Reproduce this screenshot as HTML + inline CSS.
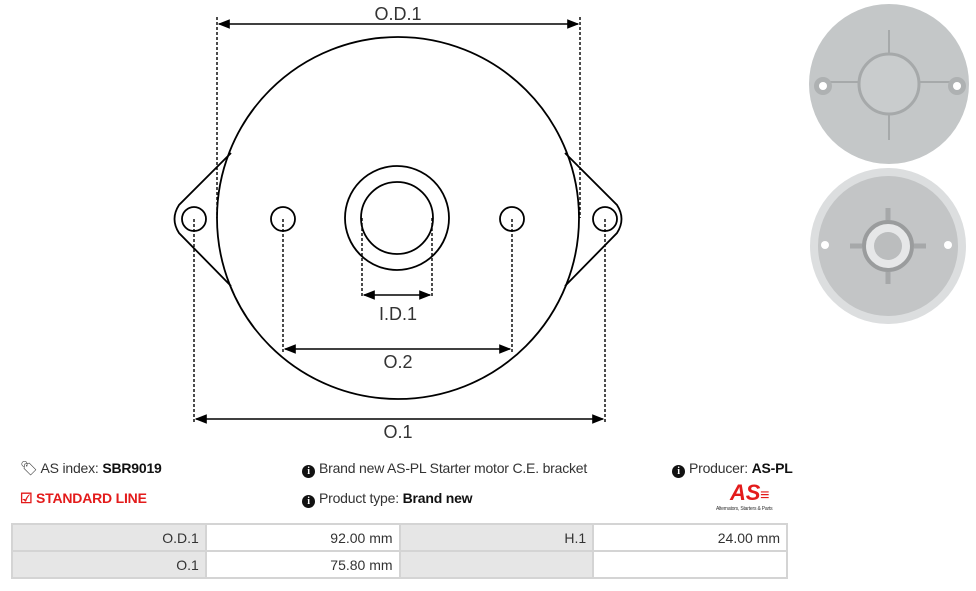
<!DOCTYPE html>
<html><head><meta charset="utf-8"><style>
body{margin:0;width:976px;height:591px;background:#fff;font-family:"Liberation Sans",sans-serif;position:relative;overflow:hidden}
.t{position:absolute;font-size:14px;color:#333;white-space:nowrap;letter-spacing:-0.2px}
b{color:#111}
.i{display:inline-block;width:13px;height:13px;border-radius:50%;background:#111;color:#fff;font-size:10px;font-weight:bold;text-align:center;line-height:13px;vertical-align:-1px;margin-right:4px;font-family:"Liberation Serif",serif}
table{position:absolute;left:11px;top:523px;border-collapse:collapse;width:777px;font-size:14px;color:#333}
td{border:2px solid #d4d4d4;height:25px;text-align:right;padding:0 6px;width:181px}
td.g{background:#e6e6e6}
</style></head><body>
<svg width="976" height="450" style="position:absolute;left:0;top:0">
<defs><marker id="a" viewBox="0 0 10 10" refX="9" refY="5" markerWidth="8" markerHeight="8" orient="auto-start-reverse"><path d="M0,1 L10,5 L0,9z" fill="#000"/></marker></defs>
<g fill="none" stroke="#000" stroke-width="1.8">
<circle cx="398" cy="218" r="181"/>
<path d="M231,153 L179,205 Q170,219 179,233 L231,286"/>
<path d="M565,153 L617,205 Q626,219 617,233 L565,286"/>
<circle cx="194" cy="219" r="12"/><circle cx="605" cy="219" r="12"/>
<circle cx="283" cy="219" r="12"/><circle cx="512" cy="219" r="12"/>
<circle cx="397" cy="218" r="52"/><circle cx="397" cy="218" r="36"/>
</g>
<g stroke="#000" stroke-width="1.4" stroke-dasharray="3,2">
<line x1="217" y1="17" x2="217" y2="218"/><line x1="580" y1="17" x2="580" y2="218"/>
<line x1="362" y1="218" x2="362" y2="298"/><line x1="432" y1="218" x2="432" y2="298"/>
<line x1="283" y1="219" x2="283" y2="352"/><line x1="512" y1="219" x2="512" y2="352"/>
<line x1="194" y1="219" x2="194" y2="422"/><line x1="605" y1="219" x2="605" y2="422"/>
</g>
<g stroke="#000" stroke-width="1.5" marker-start="url(#a)" marker-end="url(#a)">
<line x1="219" y1="24" x2="578" y2="24"/>
<line x1="364" y1="295" x2="430" y2="295"/>
<line x1="285" y1="349" x2="510" y2="349"/>
<line x1="196" y1="419" x2="603" y2="419"/>
</g>
<g font-size="18" fill="#333" text-anchor="middle" font-family="Liberation Sans,sans-serif">
<text x="398" y="20">O.D.1</text><text x="398" y="320">I.D.1</text>
<text x="398" y="368">O.2</text><text x="398" y="438">O.1</text>
</g>
<g>
<circle cx="889" cy="84" r="80" fill="#c4c7c8"/>
<g stroke="#a6a9aa" stroke-width="2"><line x1="830" y1="82" x2="860" y2="82"/><line x1="920" y1="82" x2="950" y2="82"/><line x1="889" y1="30" x2="889" y2="55"/><line x1="889" y1="115" x2="889" y2="140"/></g>
<circle cx="889" cy="84" r="30" fill="#c9cccd" stroke="#a6a9aa" stroke-width="3"/>
<circle cx="823" cy="86" r="9" fill="#aeb1b2"/><circle cx="823" cy="86" r="4" fill="#fff"/>
<circle cx="957" cy="86" r="9" fill="#aeb1b2"/><circle cx="957" cy="86" r="4" fill="#fff"/>
<circle cx="888" cy="246" r="78" fill="#dcdedf"/>
<circle cx="888" cy="246" r="70" fill="#c3c5c6"/>
<g stroke="#a6a8a9" stroke-width="5"><line x1="862" y1="246" x2="850" y2="246"/><line x1="914" y1="246" x2="926" y2="246"/><line x1="888" y1="220" x2="888" y2="208"/><line x1="888" y1="272" x2="888" y2="284"/></g>
<circle cx="888" cy="246" r="24" fill="#e6e7e8" stroke="#9a9c9d" stroke-width="4"/>
<circle cx="888" cy="246" r="14" fill="#bbbdbe"/>
<circle cx="825" cy="245" r="4" fill="#fff"/><circle cx="948" cy="245" r="4" fill="#fff"/>
</g>
</svg>
<div class="t" style="left:20px;top:460px">&#x1F3F7;&#xFE0E; AS index: <b>SBR9019</b></div>
<div class="t" style="left:20px;top:490px;color:#e31b1b;font-weight:bold">&#9745; STANDARD LINE</div>
<div class="t" style="left:302px;top:460px"><span class="i">i</span>Brand new AS-PL Starter motor C.E. bracket</div>
<div class="t" style="left:302px;top:490px"><span class="i">i</span>Product type: <b>Brand new</b></div>
<div class="t" style="left:672px;top:460px"><span class="i">i</span>Producer: <b>AS-PL</b></div>
<div class="t" style="left:730px;top:480px;color:#e31b1b;font-weight:bold;font-style:italic;font-size:22px">AS<span style="font-size:16px">&#8801;</span></div>
<div class="t" style="left:716px;top:506px;font-size:5px">Alternators, Starters &amp; Parts</div>
<table>
<tr><td class="g">O.D.1</td><td>92.00 mm</td><td class="g">H.1</td><td>24.00 mm</td></tr>
<tr><td class="g">O.1</td><td>75.80 mm</td><td class="g"></td><td></td></tr>
</table>
</body></html>
